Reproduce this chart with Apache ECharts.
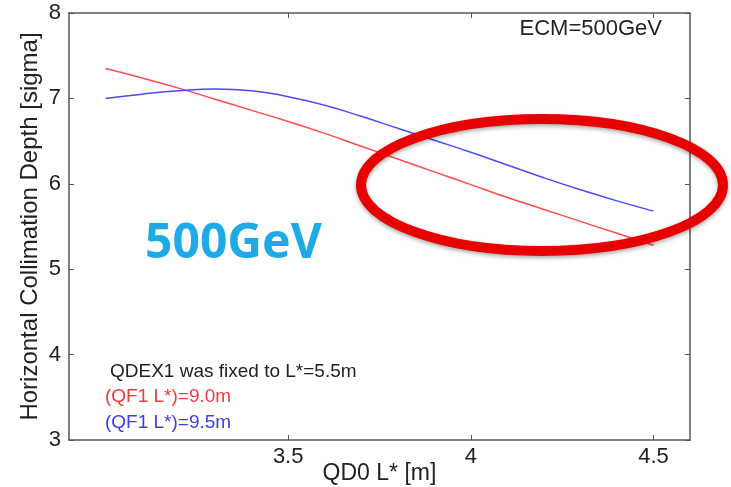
<!DOCTYPE html>
<html>
<head>
<meta charset="utf-8">
<script src="https://cdn.jsdelivr.net/npm/echarts@6/dist/echarts.min.js"></script>
<style>
  html, body { margin: 0; padding: 0; background: #fff; }
  #chart { width: 731px; height: 487px; }
</style>
</head>
<body>
<div id="chart"></div>
<script>
// QD0 L* [m]
var qd0 = [3.0, 3.1, 3.2, 3.3, 3.4, 3.5, 3.6, 3.7, 3.8, 3.9, 4.0, 4.1, 4.2, 4.3, 4.4, 4.5];
// (QF1 L*)=9.0m
var qf90 = [7.35, 7.24, 7.12, 6.99, 6.86, 6.73, 6.59, 6.44, 6.29, 6.14, 5.99, 5.84, 5.70, 5.56, 5.42, 5.28];
// (QF1 L*)=9.5m
var qf95 = [7.00, 7.05, 7.09, 7.11, 7.09, 7.02, 6.92, 6.79, 6.65, 6.51, 6.37, 6.22, 6.07, 5.93, 5.80, 5.68];
var xTicks = [3.5, 4, 4.5];

function pairs(xs, ys) {
    return xs.map(function (x, i) { return [x, ys[i]]; });
}

(function () {
    var myChart = echarts.init(document.getElementById("chart"));
    var axisColor = "#555";
    var txt = "#222";
    var font = "Liberation Sans";
    var option = {
        animation: false,
        grid: {
            left: 69,
            right: 41,
            top: 13,
            bottom: 47,
            containLabel: false,
            outerBoundsMode: 'none'
        },
        xAxis: [
            {
                type: 'value',
                min: 2.9,
                max: 4.6,
                name: 'QD0 L* [m]',
                nameLocation: 'middle',
                nameGap: 22,
                nameMoveOverlap: false,
                nameTextStyle: { color: txt, fontSize: 23, fontFamily: font },
                axisLine: { lineStyle: { color: axisColor, width: 1.5 } },
                axisTick: { inside: true, length: 5, customValues: xTicks, lineStyle: { color: axisColor } },
                axisLabel: { customValues: xTicks, color: txt, fontSize: 22, fontFamily: font, margin: 6 },
                splitLine: { show: false }
            },
            {
                type: 'value',
                position: 'top',
                min: 2.9,
                max: 4.6,
                axisLine: { lineStyle: { color: axisColor, width: 1.5 } },
                axisTick: { inside: true, length: 5, customValues: xTicks, lineStyle: { color: axisColor } },
                axisLabel: { show: false },
                splitLine: { show: false }
            }
        ],
        yAxis: [
            {
                type: 'value',
                min: 3,
                max: 8,
                interval: 1,
                name: 'Horizontal Collimation Depth [sigma]',
                nameLocation: 'middle',
                nameGap: 27,
                nameMoveOverlap: false,
                nameTextStyle: { color: txt, fontSize: 24, fontFamily: font },
                axisLine: { show: true, lineStyle: { color: axisColor, width: 1.5 } },
                axisTick: { show: true, inside: true, length: 5, lineStyle: { color: axisColor } },
                axisLabel: { color: txt, fontSize: 22, fontFamily: font, margin: 8 },
                splitLine: { show: false }
            },
            {
                type: 'value',
                position: 'right',
                min: 3,
                max: 8,
                interval: 1,
                axisLine: { show: true, lineStyle: { color: axisColor, width: 1.5 } },
                axisTick: { show: true, inside: true, length: 5, lineStyle: { color: axisColor } },
                axisLabel: { show: false },
                splitLine: { show: false }
            }
        ],
        series: [
            {
                name: '(QF1 L*)=9.0m',
                type: 'line',
                data: pairs(qd0, qf90),
                smooth: true,
                showSymbol: false,
                lineStyle: { color: '#ff4a4a', width: 1.5 }
            },
            {
                name: '(QF1 L*)=9.5m',
                type: 'line',
                data: pairs(qd0, qf95),
                smooth: true,
                showSymbol: false,
                lineStyle: { color: '#4a4aff', width: 1.5 }
            }
        ],
        graphic: [
            {
                type: 'text', right: 69, top: 18,
                style: { text: 'ECM=500GeV', fill: txt, font: '22px "Liberation Sans"' }
            },
            {
                type: 'text', left: 145, top: 220,
                style: { text: '500GeV', fill: '#1eaae6', font: 'bold 48px "Noto Sans"' }
            },
            {
                type: 'text', left: 110, top: 362,
                style: { text: 'QDEX1 was fixed to L*=5.5m', fill: txt, font: '19px "Liberation Sans"' }
            },
            {
                type: 'text', left: 105, top: 387,
                style: { text: '(QF1 L*)=9.0m', fill: '#f03c3c', font: '19px "Liberation Sans"' }
            },
            {
                type: 'text', left: 105, top: 413,
                style: { text: '(QF1 L*)=9.5m', fill: '#3c3cf0', font: '19px "Liberation Sans"' }
            },
            {
                // red annotation ring
                type: 'ellipse',
                shape: { cx: 542, cy: 185, rx: 181, ry: 66 },
                style: {
                    fill: 'none',
                    stroke: '#e80000',
                    lineWidth: 10,
                    shadowBlur: 4,
                    shadowOffsetY: 2,
                    shadowColor: 'rgba(0,0,0,0.35)'
                },
                z: 100
            }
        ]
    };
    myChart.setOption(option);
})();
</script>
</body>
</html>
